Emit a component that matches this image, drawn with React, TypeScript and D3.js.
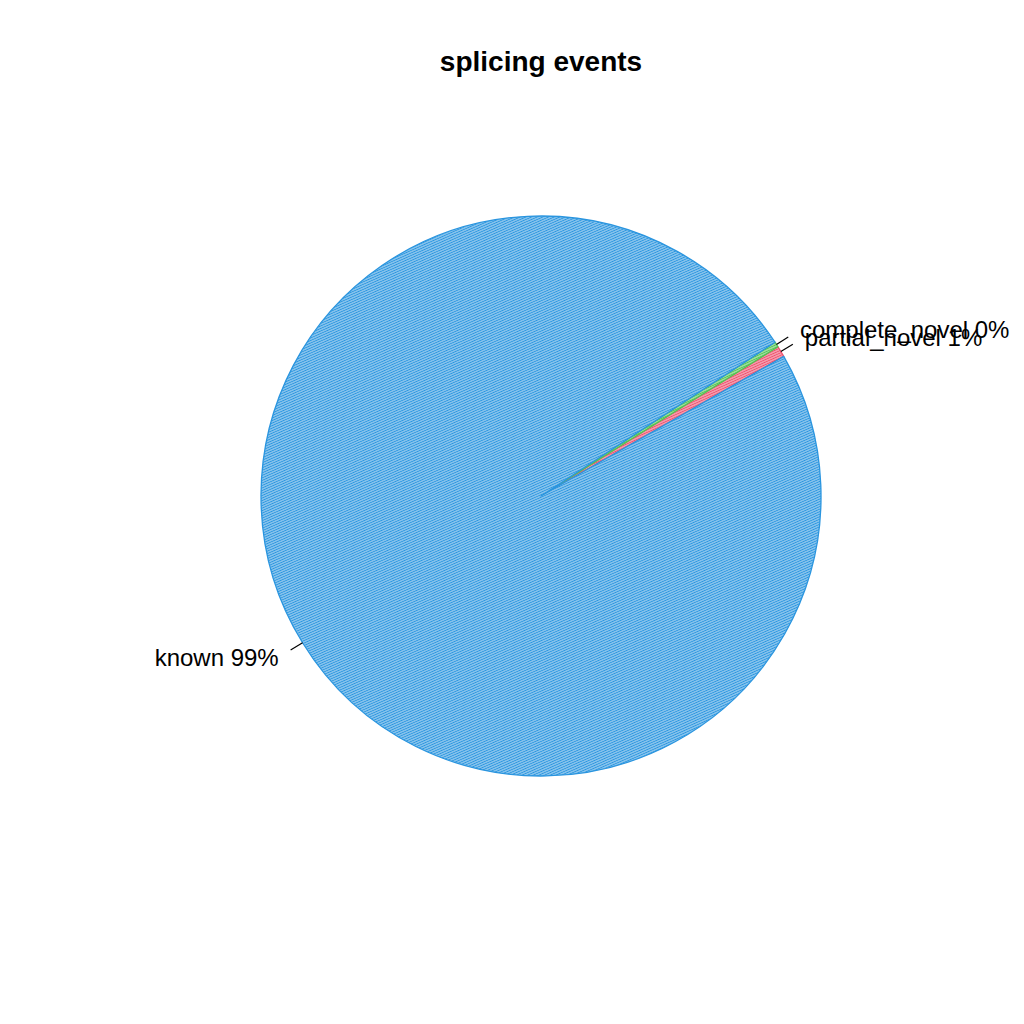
// Pie of splicing event classes, R-style: hatched slices, leader ticks, outside labels.
import { useEffect, useRef } from "react";
import * as d3 from "d3";

const CATEGORIES = ["partial_novel", "complete_novel", "known"];
const PERCENTS = [0.64, 0.31, 99.05];
const LABELS = ["partial_novel 1%", "complete_novel 0%", "known 99%"];
const COLORS = ["#ee4f6d", "#52c452", "#2a95df"];
const TITLE = "splicing events";

const W = 1024;
const H = 1024;

export default function App() {
  const ref = useRef<SVGSVGElement>(null);

  useEffect(() => {
    const svg = d3.select(ref.current);
    svg.selectAll("*").remove();

    const cx = 541;
    const cy = 496;
    const r = 280;
    const start = (29.9 * Math.PI) / 180; // first slice edge, ccw from 3 o'clock

    const defs = svg.append("defs");
    COLORS.forEach((c, i) => {
      const p = defs
        .append("pattern")
        .attr("id", `hatch-${i}`)
        .attr("patternUnits", "userSpaceOnUse")
        .attr("width", 8)
        .attr("height", 2.3)
        .attr("patternTransform", "rotate(-24)");
      p.append("rect").attr("width", 8).attr("height", 2.3).attr("fill", "#ffffff");
      p.append("line")
        .attr("x1", 0)
        .attr("x2", 8)
        .attr("y1", 1.15)
        .attr("y2", 1.15)
        .attr("stroke", c)
        .attr("stroke-width", 1.65);
    });

    svg
      .append("text")
      .attr("x", cx)
      .attr("y", 71)
      .attr("text-anchor", "middle")
      .attr("font-family", "Liberation Sans, Arial, Helvetica, sans-serif")
      .attr("font-weight", "bold")
      .attr("font-size", 28)
      .text(TITLE);

    // d3 angles run clockwise from 12 o'clock; R pie runs ccw from 3 o'clock.
    const pie = d3
      .pie<number>()
      .sort(null)
      .value((d) => d)
      .startAngle(Math.PI / 2 - start)
      .endAngle(Math.PI / 2 - start - 2 * Math.PI);
    const arcs = pie(PERCENTS);
    const arc = d3.arc<d3.PieArcDatum<number>>().innerRadius(0).outerRadius(r);

    const g = svg.append("g").attr("transform", `translate(${cx},${cy})`);

    g.selectAll("path.slice")
      .data(arcs)
      .join("path")
      .attr("class", "slice")
      .attr("d", arc)
      .attr("fill", (_, i) => `url(#hatch-${i})`)
      .attr("stroke", (_, i) => COLORS[i])
      .attr("stroke-width", 1.3)
      .attr("stroke-linejoin", "round");

    arcs.forEach((a, i) => {
      const mid = (a.startAngle + a.endAngle) / 2; // d3 angle
      const ux = Math.sin(mid);
      const uy = -Math.cos(mid);
      g.append("line")
        .attr("x1", ux * r)
        .attr("y1", uy * r)
        .attr("x2", ux * r * 1.05)
        .attr("y2", uy * r * 1.05)
        .attr("stroke", "#000")
        .attr("stroke-width", 1.2);
      g.append("text")
        .attr("x", ux * r * 1.1)
        .attr("y", uy * r * 1.1)
        .attr("dy", "0.35em")
        .attr("text-anchor", ux < 0 ? "end" : "start")
        .attr("font-family", "Liberation Sans, Arial, Helvetica, sans-serif")
        .attr("font-size", 24)
        .attr("fill", "#000")
        .text(LABELS[i]);
    });
  }, []);

  return (
    <div style={{ position: "absolute", left: 0, top: 0, width: W, height: H, background: "#fff" }}>
      <svg ref={ref} width={W} height={H} viewBox={`0 0 ${W} ${H}`} aria-label={CATEGORIES.join(", ")} />
    </div>
  );
}
